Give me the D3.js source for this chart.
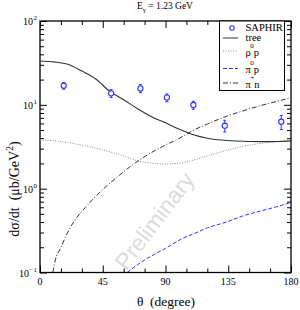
<!DOCTYPE html>
<html>
<head>
<meta charset="utf-8">
<script src="https://cdn.jsdelivr.net/npm/d3@7"></script>
<style>
  body { margin: 0; background: #fff; }
  svg { display: block; }
  text { white-space: pre; }
  .axis path { display: none; }
  .axis line { stroke: #000; stroke-width: 1; }
</style>
</head>
<body>
<script>
// SAPHIR data points
const saphir_theta = [17, 51, 72, 91, 110, 132.5, 173];
const saphir_val = [16.9, 13.7, 15.7, 12.2, 9.95, 5.64, 6.28];
const saphir_err = [1.5, 1.5, 1.7, 1.3, 1.1, 0.9, 1.2];

// model curves
const tree_theta = [0, 10, 20, 30, 40, 50, 60, 70, 80, 90, 100, 110, 120, 130, 140, 150, 160, 170, 180];
const tree_val = [33.3, 32.5, 30.5, 25.3, 20.3, 14.5, 11.5, 9.0, 7.2, 6.1, 5.1, 4.4, 4.0, 3.8, 3.7, 3.65, 3.64, 3.66, 3.72];

const rho_theta = [0, 10, 20, 30, 40, 50, 60, 70, 80, 90, 100, 110, 120, 130, 140, 150, 160, 170, 180];
const rho_val = [3.80, 3.72, 3.55, 3.30, 3.05, 2.75, 2.45, 2.15, 2.02, 1.97, 2.02, 2.19, 2.45, 2.75, 3.05, 3.30, 3.50, 3.62, 3.70];

const pip_theta = [9.2, 11, 14.7, 20.7, 25, 32.6, 44.6, 55, 68.5, 80, 90, 100, 110.3, 120, 134.2, 145, 158, 170, 180];
const pip_val = [0.1, 0.141, 0.194, 0.321, 0.42, 0.598, 0.962, 1.36, 2.04, 2.7, 3.31, 4.0, 5.0, 5.9, 7.35, 8.4, 9.77, 11.0, 12.2];

const pi0_theta = [62.5, 70, 76.8, 86.4, 90, 100.7, 110.3, 120, 134.2, 145, 158, 170, 180];
const pi0_val = [0.1, 0.124, 0.147, 0.18, 0.194, 0.248, 0.29, 0.34, 0.403, 0.47, 0.541, 0.61, 0.686];

const x_major = [0, 45, 90, 135, 180];
const x_minor = [15, 30, 60, 75, 105, 120, 150, 165];
const y_major = [0.1, 1, 10, 100];
const y_exp = ["-1", "0", "1", "2"];

const W = 300, H = 310;
const pLeft = 40, pRight = 291, pTop = 21, pBottom = 272.5;

const svg = d3.select("body").append("svg")
  .attr("width", W)
  .attr("height", H);

let x = d3.scaleLinear().domain([0, 180]).range([pLeft, pRight]);
let y = d3.scaleLog().domain([0.1, 100]).range([pBottom, pTop]);

let y_minor = [];
for (let d of [0.1, 1, 10]) {
  for (let k = 2; k <= 9; k++) y_minor.push(d * k);
}

svg.append("defs").append("clipPath").attr("id", "clip")
  .append("rect")
  .attr("x", pLeft).attr("y", pTop)
  .attr("width", pRight - pLeft).attr("height", pBottom - pTop);

// watermark
svg.append("text")
  .attr("transform", "translate(156,222) rotate(-53)")
  .attr("text-anchor", "middle")
  .attr("dominant-baseline", "middle")
  .style("font-family", "Liberation Sans, Arial, sans-serif")
  .style("font-size", "23px")
  .style("fill", "#dcdcdc")
  .text("Preliminary");

// axes ticks (inward)
function ticks(axisFn, pos, vals, size) {
  svg.append("g").attr("class", "axis")
    .attr("transform", pos)
    .call(axisFn.tickValues(vals).tickSize(size).tickFormat(""));
}
ticks(d3.axisBottom(x), "translate(0," + pBottom + ")", x_major, -7);
ticks(d3.axisBottom(x), "translate(0," + pBottom + ")", x_minor, -4);
ticks(d3.axisTop(x), "translate(0," + pTop + ")", x_major, -7);
ticks(d3.axisTop(x), "translate(0," + pTop + ")", x_minor, -4);
ticks(d3.axisLeft(y), "translate(" + pLeft + ",0)", y_major, -7);
ticks(d3.axisLeft(y), "translate(" + pLeft + ",0)", y_minor, -4);
ticks(d3.axisRight(y), "translate(" + pRight + ",0)", y_major, -7);
ticks(d3.axisRight(y), "translate(" + pRight + ",0)", y_minor, -4);

// frame
svg.append("rect")
  .attr("x", pLeft).attr("y", pTop)
  .attr("width", pRight - pLeft).attr("height", pBottom - pTop)
  .attr("fill", "none").attr("stroke", "#000").attr("stroke-width", 1.3);

const serif = "Liberation Serif, Times New Roman, serif";

// x tick labels
svg.append("g").selectAll("text").data(x_major).join("text")
  .attr("x", d => x(d))
  .attr("y", pBottom + 12)
  .attr("text-anchor", "middle")
  .style("font-family", serif).style("font-size", "10px")
  .text(d => d);

// y tick labels
let ylab = svg.append("g").selectAll("text").data(y_major).join("text")
  .attr("x", 37)
  .attr("y", d => y(d) + 4)
  .attr("text-anchor", "end")
  .style("font-family", serif).style("font-size", "10px");
ylab.text("10");
ylab.append("tspan")
  .attr("dx", "0.5")
  .attr("dy", "-5")
  .style("font-size", "7px")
  .text((d, i) => y_exp[i] === "-1" ? "\u22121" : y_exp[i]);

// axis titles
svg.append("text")
  .attr("x", 166)
  .attr("y", 306)
  .attr("text-anchor", "middle")
  .style("font-family", serif).style("font-size", "13.5px")
  .text("\u03b8  (degree)");

let ytitle = svg.append("text")
  .attr("transform", "translate(19,189) rotate(-90)")
  .attr("text-anchor", "middle")
  .style("font-family", serif).style("font-size", "14px");
ytitle.append("tspan").text("d\u03c3/dt  (\u03bcb/GeV");
ytitle.append("tspan").attr("dy", "-6").style("font-size", "9.5px").text("2");
ytitle.append("tspan").attr("dy", "6").text(")");

// title
let title = svg.append("text")
  .attr("x", 165).attr("y", 9)
  .attr("text-anchor", "middle")
  .style("font-family", serif).style("font-size", "9.5px");
title.append("tspan").text("E");
title.append("tspan").attr("dy", "3").style("font-size", "7px").text("\u03b3");
title.append("tspan").attr("dy", "-3").text(" = 1.23 GeV");

// curves
const line = d3.line()
  .x(d => x(d[0]))
  .y(d => y(d[1]))
  .curve(d3.curveMonotoneX);

const plot = svg.append("g").attr("clip-path", "url(#clip)");

function curve(th, vals, color, dash, width) {
  plot.append("path")
    .datum(d3.zip(th, vals))
    .attr("d", line)
    .attr("fill", "none")
    .attr("stroke", color)
    .attr("stroke-width", width)
    .attr("stroke-dasharray", dash);
}
curve(rho_theta, rho_val, "#8a8a8a", "1,1.5", 1);
curve(pip_theta, pip_val, "#333", "5,2,1,2", 1);
curve(pi0_theta, pi0_val, "#3333ff", "4,2", 1);
curve(tree_theta, tree_val, "#333", null, 1.1);

// data points
const pts = plot.append("g").selectAll("g").data(d3.range(saphir_theta.length)).join("g");
pts.append("line")
  .attr("x1", i => x(saphir_theta[i])).attr("x2", i => x(saphir_theta[i]))
  .attr("y1", i => y(saphir_val[i] + saphir_err[i]))
  .attr("y2", i => y(saphir_val[i] - saphir_err[i]))
  .attr("stroke", "#3333ff").attr("stroke-width", 1);
pts.append("line")
  .attr("x1", i => x(saphir_theta[i]) - 1.5).attr("x2", i => x(saphir_theta[i]) + 1.5)
  .attr("y1", i => y(saphir_val[i] + saphir_err[i]))
  .attr("y2", i => y(saphir_val[i] + saphir_err[i]))
  .attr("stroke", "#3333ff");
pts.append("line")
  .attr("x1", i => x(saphir_theta[i]) - 1.5).attr("x2", i => x(saphir_theta[i]) + 1.5)
  .attr("y1", i => y(saphir_val[i] - saphir_err[i]))
  .attr("y2", i => y(saphir_val[i] - saphir_err[i]))
  .attr("stroke", "#3333ff");
pts.append("circle")
  .attr("cx", i => x(saphir_theta[i]))
  .attr("cy", i => y(saphir_val[i]))
  .attr("r", 2.6)
  .attr("fill", "#fff")
  .attr("stroke", "#3333ff").attr("stroke-width", 1.1);

// legend
const lg = svg.append("g");
lg.append("rect")
  .attr("x", 219.5).attr("y", pTop)
  .attr("width", 65).attr("height", 69.5)
  .attr("fill", "#fff").attr("stroke", "#000").attr("stroke-width", 1);

const leg_rows = [
  {name: "SAPHIR", y: 28, type: "pt"},
  {name: "tree", y: 38, color: "#333", dash: null},
  {name: "\u03c1", sup: "0", rest: "p", y: 51, color: "#8a8a8a", dash: "1,1.5"},
  {name: "\u03c0", sup: "0", rest: "p", y: 68.5, color: "#3333ff", dash: "4,2"},
  {name: "\u03c0", sup: "+", rest: "n", y: 83, color: "#333", dash: "5,2,1,2"}
];
for (let r of leg_rows) {
  if (r.type === "pt") {
    lg.append("circle").attr("cx", 232).attr("cy", r.y).attr("r", 2.2)
      .attr("fill", "#fff").attr("stroke", "#3333ff").attr("stroke-width", 1.1);
  } else {
    lg.append("line").attr("x1", 223).attr("x2", 238)
      .attr("y1", r.y).attr("y2", r.y)
      .attr("stroke", r.color).attr("stroke-dasharray", r.dash);
  }
  let base = r.sup ? r.y + 4.5 : r.y + 3;
  let t = lg.append("text").attr("x", 245.5).attr("y", base)
    .style("font-family", serif).style("font-size", "10.5px");
  if (r.sup) {
    t.append("tspan").text(r.name);
    t.append("tspan").attr("dx", "-0.5").attr("dy", "-8").style("font-size", "7px").text(r.sup);
    t.append("tspan").attr("dy", "8").text(r.rest);
  } else {
    t.text(r.name);
  }
}
</script>
</body>
</html>
